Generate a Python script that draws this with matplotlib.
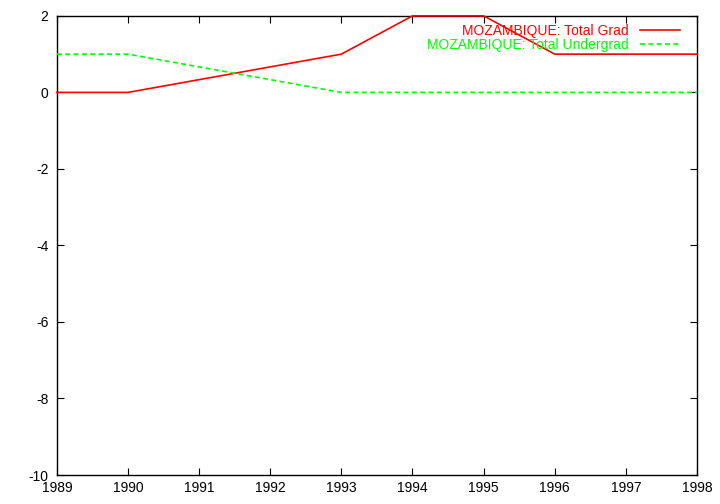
import matplotlib
matplotlib.use("Agg")
import matplotlib.pyplot as plt

years = [1989, 1990, 1993, 1994, 1995, 1996, 1997, 1998]
grad = [0, 0, 1, 2, 2, 1, 1, 1]
undergrad = [1, 1, 0, 0, 0, 0, 0, 0]

plt.rcParams['font.family'] = ['Liberation Sans', 'DejaVu Sans']
plt.rcParams['axes.unicode_minus'] = False

fig = plt.figure(figsize=(7.2, 5.04), dpi=100)
ax = fig.add_axes([0.079, 0.0575, 0.889, 0.911])

ax.plot(years, grad, color='#ff0000', lw=1.2, clip_on=False, zorder=3,
        label='MOZAMBIQUE: Total Grad')
ax.plot(years, undergrad, color='#00ff00', lw=1.2, ls=(0, (3, 2)),
        clip_on=False, zorder=3, label='MOZAMBIQUE: Total Undergrad')

ax.set_xlim(1989, 1998)
ax.set_ylim(-10, 2)
ax.set_xticks(range(1989, 1999))
ax.set_yticks(range(-10, 3, 2))
ax.tick_params(direction='in', top=True, right=True, labelsize=10, length=5)
ax.tick_params(axis='y', pad=6)
ax.tick_params(axis='x', pad=4)
for s in ax.spines.values():
    s.set_linewidth(1)

ax.legend(loc='upper right', bbox_to_anchor=(0.973, 0.983), frameon=False,
          markerfirst=False, labelcolor='linecolor', fontsize=10,
          handlelength=2.85, borderaxespad=0.0, borderpad=0.0,
          labelspacing=0.0, handletextpad=0.8)

fig.savefig('out.png', dpi=100)
